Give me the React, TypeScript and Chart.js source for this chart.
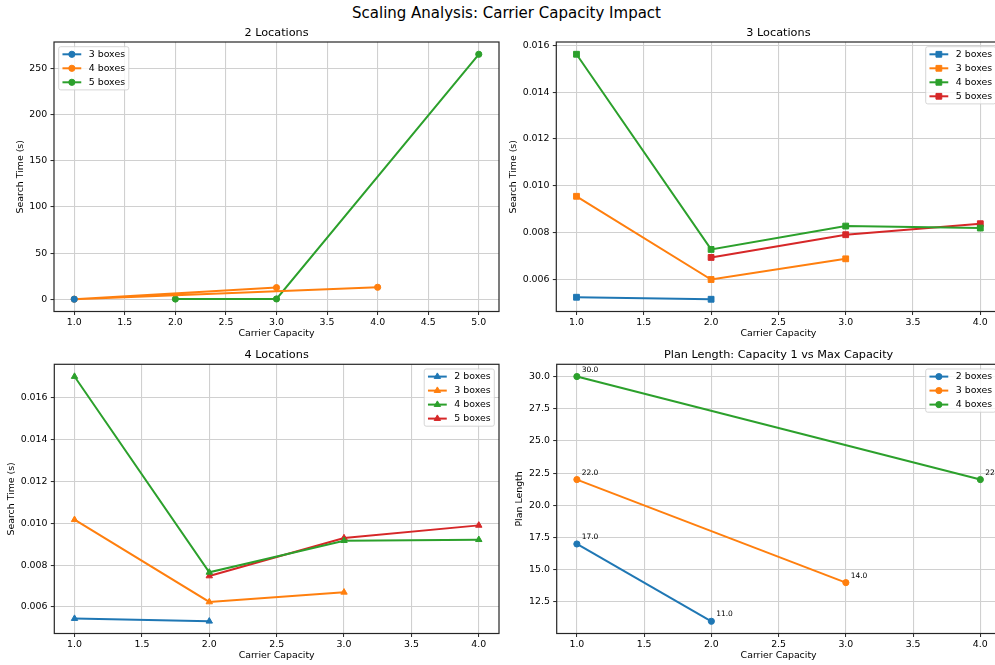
import React, { useEffect, useRef } from 'react';
import { Chart, registerables } from 'chart.js';

Chart.register(...registerables);

const FONT = "'DejaVu Sans', sans-serif";
const BLUE = '#1f77b4';
const ORANGE = '#ff7f0e';
const GREEN = '#2ca02c';
const RED = '#d62728';

const SUPTITLE = 'Scaling Analysis: Carrier Capacity Impact';
const X_TITLE = 'Carrier Capacity';

// Panel 1: 2 Locations (search time)
const loc2Box3X = [1];
const loc2Box3Y = [0.05];
const loc2Box4X = [3, 1, 4];
const loc2Box4Y = [12.6, 0.1, 13.0];
const loc2Box5X = [2, 3, 5];
const loc2Box5Y = [0.2, 0.3, 265.6];
const loc2XTicks = [1.0, 1.5, 2.0, 2.5, 3.0, 3.5, 4.0, 4.5, 5.0];
const loc2YTicks = [0, 50, 100, 150, 200, 250];

// Panel 2: 3 Locations (search time)
const loc3Box2X = [1, 2];
const loc3Box2Y = [0.005244, 0.005158];
const loc3Box3X = [1, 2, 3];
const loc3Box3Y = [0.009552, 0.006, 0.006884];
const loc3Box4X = [1, 2, 3, 4];
const loc3Box4Y = [0.015615, 0.007284, 0.008282, 0.008197];
const loc3Box5X = [2, 3, 4];
const loc3Box5Y = [0.006942, 0.007912, 0.008382];
const loc3XTicks = [1.0, 1.5, 2.0, 2.5, 3.0, 3.5, 4.0];
const loc3YTicks = [0.006, 0.008, 0.01, 0.012, 0.014, 0.016];

// Panel 3: 4 Locations (search time)
const loc4Box2X = [1, 2];
const loc4Box2Y = [0.005444, 0.005316];
const loc4Box3X = [1, 2, 3];
const loc4Box3Y = [0.010165, 0.006238, 0.0067];
const loc4Box4X = [1, 2, 3, 4];
const loc4Box4Y = [0.017002, 0.007653, 0.009164, 0.009211];
const loc4Box5X = [2, 3, 4];
const loc4Box5Y = [0.007479, 0.009291, 0.009895];
const loc4XTicks = [1.0, 1.5, 2.0, 2.5, 3.0, 3.5, 4.0];
const loc4YTicks = [0.006, 0.008, 0.01, 0.012, 0.014, 0.016];

// Panel 4: Plan length, capacity 1 vs max capacity
const plan2X = [1, 2];
const plan2Y = [17, 11];
const plan3X = [1, 3];
const plan3Y = [22, 14];
const plan4X = [1, 4];
const plan4Y = [30, 22];
const planXTicks = [1.0, 1.5, 2.0, 2.5, 3.0, 3.5, 4.0];
const planYTicks = [12.5, 15.0, 17.5, 20.0, 22.5, 25.0, 27.5, 30.0];

type Series = { label: string; color: string; xs: number[]; ys: number[] };
type Marker = 'circle' | 'rect' | 'triangle';
type Spec = {
  title: string;
  yTitle: string;
  series: Series[];
  marker: Marker;
  radius: number;
  xMin: number;
  xMax: number;
  xTicks: number[];
  yMin: number;
  yMax: number;
  yTicks: number[];
  yDec: number;
  cx: number;
  cy: number;
  cw: number;
  ch: number;
  L: number;
  T: number;
  R: number;
  B: number;
  titleY: number;
  yTitleX: number;
  xTitleY: number;
  legend: 'left' | 'right';
  annotate?: boolean;
};

const TICK_SIZE = 9.4;
const TITLE_SIZE = 11.25;
const ANN_SIZE = 7.5;
const LINE_W = 2;

function drawMarker(ctx: CanvasRenderingContext2D, style: Marker, x: number, y: number, r: number, color: string) {
  ctx.save();
  ctx.fillStyle = color;
  ctx.strokeStyle = color;
  ctx.lineWidth = 1;
  ctx.beginPath();
  if (style === 'circle') {
    ctx.arc(x, y, r, 0, Math.PI * 2);
  } else if (style === 'rect') {
    const s = r * Math.SQRT1_2;
    ctx.rect(x - s, y - s, 2 * s, 2 * s);
  } else {
    let a = 0;
    ctx.moveTo(x + Math.sin(a) * r, y - Math.cos(a) * r);
    a += (2 * Math.PI) / 3;
    ctx.lineTo(x + Math.sin(a) * r, y - Math.cos(a) * r);
    a += (2 * Math.PI) / 3;
    ctx.lineTo(x + Math.sin(a) * r, y - Math.cos(a) * r);
    ctx.closePath();
  }
  ctx.fill();
  ctx.stroke();
  ctx.restore();
}

function makeChart(canvas: HTMLCanvasElement, spec: Spec) {
  const tickFont = { family: FONT, size: TICK_SIZE, weight: 'normal' as const };
  const lhTick = TICK_SIZE * 1.2;
  const lhTitle = TITLE_SIZE * 1.2;
  const titlePadTop = spec.titleY - spec.cy - lhTitle / 2;
  const titlePadBottom = spec.T - spec.cy - lhTitle - titlePadTop;
  const bottomEdge = spec.cy + spec.ch;

  const framePlugin = {
    id: 'frame',
    afterDatasetsDraw(chart: any) {
      const { ctx, chartArea } = chart;
      ctx.save();
      ctx.strokeStyle = '#262626';
      ctx.lineWidth = 1.2;
      ctx.strokeRect(chartArea.left, chartArea.top, chartArea.right - chartArea.left, chartArea.bottom - chartArea.top);
      ctx.restore();
      if (spec.annotate) {
        ctx.save();
        ctx.font = `${ANN_SIZE}px ${FONT}`;
        ctx.fillStyle = '#000';
        ctx.textAlign = 'left';
        ctx.textBaseline = 'alphabetic';
        chart.data.datasets.forEach((ds: any, i: number) => {
          const meta = chart.getDatasetMeta(i);
          meta.data.forEach((el: any, j: number) => {
            const v = ds.data[j].y as number;
            ctx.fillText(v.toFixed(1), el.x + 4.8, el.y - 4.8);
          });
        });
        ctx.restore();
      }
    },
  };

  const legendPlugin = {
    id: 'mplLegend',
    afterDraw(chart: any) {
      const { ctx, chartArea } = chart;
      const ds = chart.data.datasets;
      ctx.save();
      ctx.font = `${TICK_SIZE}px ${FONT}`;
      let tw = 0;
      ds.forEach((d: any) => {
        tw = Math.max(tw, ctx.measureText(d.label).width);
      });
      const pad = 0.4 * TICK_SIZE;
      const handle = 2 * TICK_SIZE;
      const gap = 0.8 * TICK_SIZE;
      const rowH = 14;
      const topPad = 7.6;
      const w = pad + handle + gap + tw + pad;
      const h = topPad * 2 + (ds.length - 1) * rowH;
      const axPad = 0.5 * TICK_SIZE;
      const x = spec.legend === 'left' ? chartArea.left + axPad : chartArea.right - axPad - w;
      const y = chartArea.top + axPad;
      ctx.beginPath();
      if ((ctx as any).roundRect) (ctx as any).roundRect(x, y, w, h, 2);
      else ctx.rect(x, y, w, h);
      ctx.fillStyle = 'rgba(255,255,255,0.8)';
      ctx.fill();
      ctx.strokeStyle = 'rgba(204,204,204,0.8)';
      ctx.lineWidth = 1;
      ctx.stroke();
      ds.forEach((d: any, i: number) => {
        const yy = y + topPad + i * rowH;
        ctx.beginPath();
        ctx.strokeStyle = d.borderColor;
        ctx.lineWidth = LINE_W;
        ctx.moveTo(x + pad, yy);
        ctx.lineTo(x + pad + handle, yy);
        ctx.stroke();
        drawMarker(ctx, spec.marker, x + pad + handle / 2, yy, spec.radius, d.borderColor);
        ctx.fillStyle = '#000';
        ctx.textAlign = 'left';
        ctx.textBaseline = 'middle';
        ctx.fillText(d.label, x + pad + handle + gap, yy);
      });
      ctx.restore();
    },
  };

  const grid = {
    color: '#d0d0d0',
    lineWidth: 1.1,
    drawTicks: true,
    tickLength: 3.5,
    tickColor: '#262626',
    tickWidth: 1,
  };

  return new Chart(canvas, {
    type: 'scatter',
    data: {
      datasets: spec.series.map((s) => ({
        label: s.label,
        data: s.xs.map((x, i) => ({ x, y: s.ys[i] })),
        showLine: true,
        borderColor: s.color,
        backgroundColor: s.color,
        borderWidth: LINE_W,
        pointStyle: spec.marker,
        pointRadius: spec.radius,
        pointHoverRadius: spec.radius,
        pointBorderWidth: 1,
        pointBackgroundColor: s.color,
        pointBorderColor: s.color,
        tension: 0,
      })),
    },
    options: {
      animation: false,
      responsive: false,
      maintainAspectRatio: false,
      events: [],
      layout: { padding: { left: 0, top: 0, bottom: 0, right: spec.cx + spec.cw - spec.R } },
      plugins: {
        legend: { display: false },
        tooltip: { enabled: false },
        title: {
          display: true,
          fullSize: false,
          text: spec.title,
          color: '#000',
          font: { family: FONT, size: TITLE_SIZE, weight: 'normal' },
          padding: { top: titlePadTop, bottom: titlePadBottom },
        },
      },
      scales: {
        x: {
          type: 'linear',
          min: spec.xMin,
          max: spec.xMax,
          afterBuildTicks: (s: any) => {
            s.ticks = spec.xTicks.map((v) => ({ value: v }));
          },
          afterFit: (s: any) => {
            s.height = bottomEdge - spec.B;
          },
          ticks: {
            callback: (v: any) => Number(v).toFixed(1),
            font: tickFont,
            color: '#000',
            padding: 2,
            maxRotation: 0,
            autoSkip: false,
          },
          grid,
          border: { display: false },
          title: {
            display: true,
            text: X_TITLE,
            color: '#000',
            font: tickFont,
            padding: { top: 0, bottom: bottomEdge - spec.xTitleY - lhTick / 2 },
          },
        },
        y: {
          type: 'linear',
          min: spec.yMin,
          max: spec.yMax,
          afterBuildTicks: (s: any) => {
            s.ticks = spec.yTicks.map((v) => ({ value: v }));
          },
          afterFit: (s: any) => {
            s.width = spec.L - spec.cx;
          },
          ticks: {
            callback: (v: any) => Number(v).toFixed(spec.yDec),
            font: tickFont,
            color: '#000',
            padding: 3.3,
            autoSkip: false,
          },
          grid,
          border: { display: false },
          title: {
            display: true,
            text: spec.yTitle,
            color: '#000',
            font: tickFont,
            padding: { top: spec.yTitleX - spec.cx - lhTick / 2, bottom: 0 },
          },
        },
      },
    } as any,
    plugins: [framePlugin, legendPlugin],
  });
}

function Panel({ spec }: { spec: Spec }) {
  const ref = useRef<HTMLCanvasElement | null>(null);
  useEffect(() => {
    if (!ref.current) return;
    const chart = makeChart(ref.current, spec);
    return () => chart.destroy();
  }, [spec]);
  return (
    <div style={{ position: 'absolute', left: spec.cx, top: spec.cy, width: spec.cw, height: spec.ch }}>
      <canvas ref={ref} width={spec.cw} height={spec.ch} style={{ width: spec.cw, height: spec.ch, display: 'block' }} />
    </div>
  );
}

const specs: Spec[] = [
  {
    title: '2 Locations',
    yTitle: 'Search Time (s)',
    series: [
      { label: '3 boxes', color: BLUE, xs: loc2Box3X, ys: loc2Box3Y },
      { label: '4 boxes', color: ORANGE, xs: loc2Box4X, ys: loc2Box4Y },
      { label: '5 boxes', color: GREEN, xs: loc2Box5X, ys: loc2Box5Y },
    ],
    marker: 'circle',
    radius: 3.1,
    xMin: 0.8,
    xMax: 5.2,
    xTicks: loc2XTicks,
    yMin: -13.3,
    yMax: 278.9,
    yTicks: loc2YTicks,
    yDec: 0,
    cx: 0,
    cy: 20,
    cw: 520,
    ch: 330,
    L: 54,
    T: 42,
    R: 499,
    B: 311.5,
    titleY: 32.8,
    yTitleX: 20.8,
    xTitleY: 333.8,
    legend: 'left',
  },
  {
    title: '3 Locations',
    yTitle: 'Search Time (s)',
    series: [
      { label: '2 boxes', color: BLUE, xs: loc3Box2X, ys: loc3Box2Y },
      { label: '3 boxes', color: ORANGE, xs: loc3Box3X, ys: loc3Box3Y },
      { label: '4 boxes', color: GREEN, xs: loc3Box4X, ys: loc3Box4Y },
      { label: '5 boxes', color: RED, xs: loc3Box5X, ys: loc3Box5Y },
    ],
    marker: 'rect',
    radius: 4.1,
    xMin: 0.85,
    xMax: 4.15,
    xTicks: loc3XTicks,
    yMin: 0.004635,
    yMax: 0.016138,
    yTicks: loc3YTicks,
    yDec: 3,
    cx: 505,
    cy: 20,
    cw: 520,
    ch: 330,
    L: 556.3,
    T: 42,
    R: 1000.5,
    B: 311.5,
    titleY: 32.8,
    yTitleX: 513.7,
    xTitleY: 333.8,
    legend: 'right',
  },
  {
    title: '4 Locations',
    yTitle: 'Search Time (s)',
    series: [
      { label: '2 boxes', color: BLUE, xs: loc4Box2X, ys: loc4Box2Y },
      { label: '3 boxes', color: ORANGE, xs: loc4Box3X, ys: loc4Box3Y },
      { label: '4 boxes', color: GREEN, xs: loc4Box4X, ys: loc4Box4Y },
      { label: '5 boxes', color: RED, xs: loc4Box5X, ys: loc4Box5Y },
    ],
    marker: 'triangle',
    radius: 3.7,
    xMin: 0.85,
    xMax: 4.15,
    xTicks: loc4XTicks,
    yMin: 0.004732,
    yMax: 0.017586,
    yTicks: loc4YTicks,
    yDec: 3,
    cx: 0,
    cy: 340,
    cw: 520,
    ch: 325,
    L: 54.3,
    T: 364.3,
    R: 499,
    B: 633.5,
    titleY: 355.2,
    yTitleX: 11.5,
    xTitleY: 655.8,
    legend: 'right',
  },
  {
    title: 'Plan Length: Capacity 1 vs Max Capacity',
    yTitle: 'Plan Length',
    series: [
      { label: '2 boxes', color: BLUE, xs: plan2X, ys: plan2Y },
      { label: '3 boxes', color: ORANGE, xs: plan3X, ys: plan3Y },
      { label: '4 boxes', color: GREEN, xs: plan4X, ys: plan4Y },
    ],
    marker: 'circle',
    radius: 3.1,
    xMin: 0.85,
    xMax: 4.15,
    xTicks: planXTicks,
    yMin: 10.05,
    yMax: 30.95,
    yTicks: planYTicks,
    yDec: 1,
    cx: 505,
    cy: 340,
    cw: 520,
    ch: 325,
    L: 556.7,
    T: 364.3,
    R: 1000.5,
    B: 633.5,
    titleY: 355.2,
    yTitleX: 519.3,
    xTitleY: 655.8,
    legend: 'right',
    annotate: true,
  },
];

export default function App() {
  return (
    <div
      style={{
        position: 'fixed',
        left: 0,
        top: 0,
        width: 995,
        height: 665,
        overflow: 'hidden',
        background: '#fff',
      }}
    >
      <div
        style={{
          position: 'absolute',
          left: 0,
          top: 4,
          width: 1013,
          textAlign: 'center',
          fontFamily: FONT,
          fontSize: 15,
          lineHeight: '18px',
          color: '#000',
          whiteSpace: 'nowrap',
        }}
      >
        {SUPTITLE}
      </div>
      {specs.map((s, i) => (
        <Panel key={i} spec={s} />
      ))}
    </div>
  );
}
